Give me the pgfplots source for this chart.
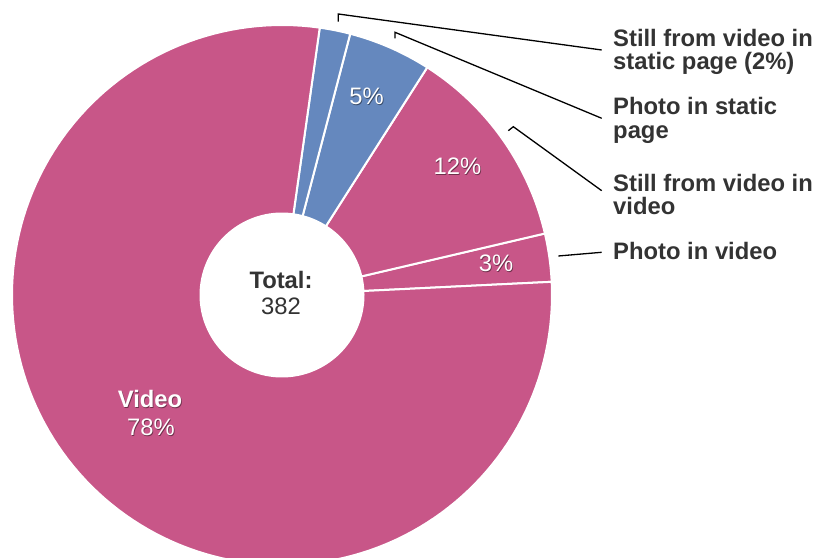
\documentclass[border=0pt]{standalone}
\usepackage{pgfplots}
\usepackage{pgfplotstable}
\pgfplotsset{compat=1.18}
\usepackage{fontspec}
\setmainfont{Liberation Sans}
\definecolor{pinkc}{RGB}{200,86,136}
\definecolor{bluec}{RGB}{101,136,190}
\definecolor{txt}{RGB}{51,51,51}

\pgfplotstableread{
slice count
PhotoInVideo 11
StillInVideo 47
PhotoStatic 19
StillStatic 7
Video 298
}\slicedata

\newcommand{\lbl}{\fontsize{23.8bp}{23.8bp}\selectfont}
\tikzset{
  inlbl/.style={anchor=base, text=white, font=\lbl, inner sep=0pt},
  shd/.style={anchor=base, text=black, opacity=0.45, font=\lbl, inner sep=0pt},
  outlbl/.style={anchor=base west, text=txt, font=\lbl\bfseries, inner sep=0pt},
}

\begin{document}
\begin{tikzpicture}
\pgfplotstablegetelem{0}{count}\of\slicedata \pgfmathsetmacro\cA{\pgfplotsretval}
\pgfplotstablegetelem{1}{count}\of\slicedata \pgfmathsetmacro\cB{\pgfplotsretval}
\pgfplotstablegetelem{2}{count}\of\slicedata \pgfmathsetmacro\cC{\pgfplotsretval}
\pgfplotstablegetelem{3}{count}\of\slicedata \pgfmathsetmacro\cD{\pgfplotsretval}
\pgfplotstablegetelem{4}{count}\of\slicedata \pgfmathsetmacro\cE{\pgfplotsretval}
\pgfmathsetmacro\total{\cA+\cB+\cC+\cD+\cE}
\pgfmathsetmacro\unit{360/\total}
\pgfmathsetmacro\aO{2.8}
\pgfmathsetmacro\aA{\aO+\unit*\cA}
\pgfmathsetmacro\aB{\aA+\unit*\cB}
\pgfmathsetmacro\aC{\aB+\unit*\cC}
\pgfmathsetmacro\aD{\aC+\unit*\cD}
\pgfmathsetmacro\aE{\aD+\unit*\cE}
\begin{axis}[
  at={(0,0)}, anchor=south west,
  scale only axis, width=819bp, height=558bp,
  xmin=0, xmax=819, ymin=0, ymax=558,
  hide axis, clip=true,
]
\addplot[fill=pinkc, draw=white, line width=2bp, domain=\aO:\aA, samples=20]
  ({282+270*cos(x)},{263+270*sin(x)}) -- (axis cs:282,263) -- cycle;
\addplot[fill=pinkc, draw=white, line width=2bp, domain=\aA:\aB, samples=40]
  ({282+270*cos(x)},{263+270*sin(x)}) -- (axis cs:282,263) -- cycle;
\addplot[fill=bluec, draw=white, line width=2bp, domain=\aB:\aC, samples=20]
  ({282+270*cos(x)},{263+270*sin(x)}) -- (axis cs:282,263) -- cycle;
\addplot[fill=bluec, draw=white, line width=2bp, domain=\aC:\aD, samples=10]
  ({282+270*cos(x)},{263+270*sin(x)}) -- (axis cs:282,263) -- cycle;
\addplot[fill=pinkc, draw=white, line width=2bp, domain=\aD:\aE, samples=150]
  ({282+270*cos(x)},{263+270*sin(x)}) -- (axis cs:282,263) -- cycle;
% hole
\addplot[fill=white, draw=none, domain=0:360, samples=150]
  ({282+82.5*cos(x)},{263+82.5*sin(x)}) -- cycle;

% leader lines
\addplot[black, line width=1.3bp] coordinates {(338.3,536.3) (338.3,544) (601.7,508)};
\addplot[black, line width=1.3bp] coordinates {(395,519.7) (395,525.7) (601.7,439.7)};
\addplot[black, line width=1.3bp] coordinates {(508.3,427.3) (513.3,431.3) (601.7,367.3)};
\addplot[black, line width=1.3bp] coordinates {(558.3,302) (601.7,305.7)};

% centre
\node[anchor=base, text=txt, font=\lbl\bfseries, inner sep=0pt] at (axis cs:281,269.7) {Total:};
\node[anchor=base, text=txt, font=\lbl, inner sep=0pt] at (axis cs:281,243) {382};

% inner labels with shadow
\node[shd] at (axis cs:367.3,452.9) {5\%};
\node[inlbl] at (axis cs:366.5,453.7) {5\%};
\node[shd] at (axis cs:458.3,382.2) {12\%};
\node[inlbl] at (axis cs:457.5,383) {12\%};
\node[shd] at (axis cs:496.8,285.5) {3\%};
\node[inlbl] at (axis cs:496,286.3) {3\%};
\node[shd, font=\lbl\bfseries] at (axis cs:150.8,149.2) {Video};
\node[inlbl, font=\lbl\bfseries] at (axis cs:150,150) {Video};
\node[shd] at (axis cs:151.8,121.2) {78\%};
\node[inlbl] at (axis cs:151,122) {78\%};

% outer labels
\node[outlbl] at (axis cs:613,511.3) {Still from video in};
\node[outlbl] at (axis cs:613,488) {static page (2\%)};
\node[outlbl] at (axis cs:613,443) {Photo in static};
\node[outlbl] at (axis cs:613,419.7) {page};
\node[outlbl] at (axis cs:613,366.3) {Still from video in};
\node[outlbl] at (axis cs:613,343) {video};
\node[outlbl] at (axis cs:613,298) {Photo in video};
\end{axis}
\pgfresetboundingbox
\path (0,0) rectangle (819bp,558bp);
\end{tikzpicture}
\end{document}
